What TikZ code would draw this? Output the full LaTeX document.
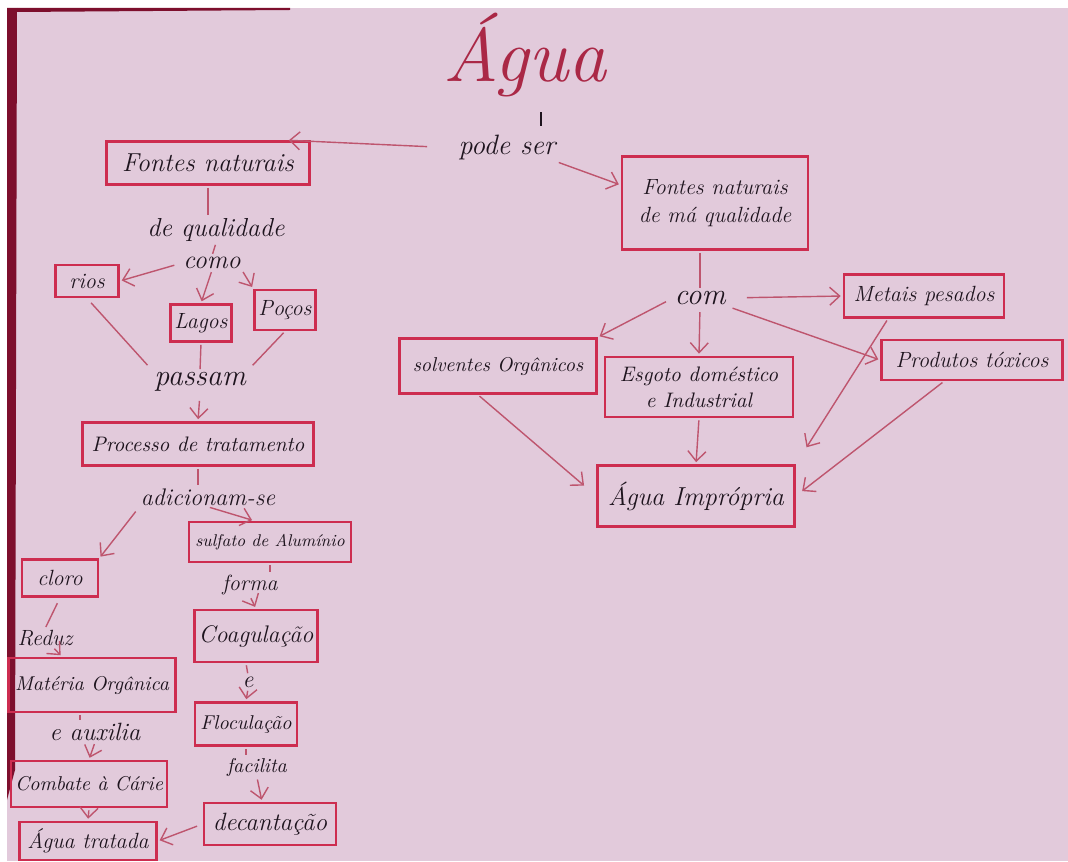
\documentclass[tikz,border=0pt]{standalone}
\usepackage{tikz}
\usetikzlibrary{positioning, arrows.meta}

\definecolor{paper}{RGB}{226,202,219}
\definecolor{boxred}{RGB}{205,45,80}
\definecolor{titlered}{RGB}{170,40,70}
\definecolor{linkred}{RGB}{190,85,110}
\definecolor{edgered}{RGB}{125,15,45}
\definecolor{ink}{RGB}{30,20,30}

\tikzset{
  concept/.style={draw=boxred, line width=1.3pt, rectangle, inner sep=2pt, align=center,
    text=ink, font=\fontsize{11}{14}\selectfont\itshape},
  linkword/.style={text=ink, inner sep=0.5pt, font=\fontsize{12}{14}\selectfont\itshape},
  arr/.style={draw=linkred, line width=0.7pt, -{Straight Barb[length=5pt,width=9pt]},
    shorten <=1pt, shorten >=1pt},
  plain/.style={draw=linkred, line width=0.7pt, shorten <=1pt, shorten >=1pt}
}

\begin{document}
\begin{tikzpicture}[x=0.5pt, y=-0.5pt]
  % paper
  \useasboundingbox (0,0) rectangle (1068,861);
  \fill[white] (0,0) rectangle (1068,861);
  \fill[paper] (7,8) rectangle (1068,861);
  \fill[edgered] (7,8) -- (17,8) -- (15,770) -- (7,800) -- cycle;
  \fill[edgered] (17,8) -- (290,8) -- (290,10) -- (17,12) -- cycle;

  % title
  \node[text=titlered, font=\fontsize{38}{40}\selectfont\itshape] (agua) at (525,55) {Água};
  \node[linkword, font=\fontsize{14}{16}\selectfont\itshape] (pode) at (507,148) {pode ser};

  % left branch
  \node[concept, minimum width=101.5pt, minimum height=21.5pt, font=\fontsize{13}{15}\selectfont\itshape] (fnat) at (208,163) {Fontes naturais};
  \node[linkword, font=\fontsize{13}{15}\selectfont\itshape] (dequal) at (216,230) {de qualidade};
  \node[linkword, font=\fontsize{13}{15}\selectfont\itshape] (como) at (212,263) {como};
  \node[concept, minimum width=31.5pt, minimum height=16pt] (rios) at (87,281) {rios};
  \node[concept, minimum width=29pt, minimum height=18.5pt] (lagos) at (201,323) {Lagos};
  \node[concept, minimum width=27.5pt, minimum height=20pt] (pocos) at (285,310) {Poços};
  \node[linkword, font=\fontsize{15}{17}\selectfont\itshape] (passam) at (200,382) {passam};
  \node[concept, minimum width=115.5pt, minimum height=21.5pt, font=\fontsize{10.5}{13}\selectfont\itshape] (proc) at (198,444) {Processo de tratamento};
  \node[linkword] (adic) at (208,497) {adicionam-se};
  \node[concept, minimum width=81pt, minimum height=20pt, font=\fontsize{8.5}{10}\selectfont\itshape] (sulf) at (270,542) {sulfato de Alumínio};
  \node[concept, minimum width=38pt, minimum height=18.5pt] (cloro) at (60,578) {cloro};
  \node[linkword, font=\fontsize{11}{13}\selectfont\itshape] (reduz) at (45,638) {Reduz};
  \node[concept, minimum width=83.5pt, minimum height=27pt, font=\fontsize{10}{12}\selectfont\itshape] (mat) at (92,685) {Matéria Orgânica};
  \node[linkword, font=\fontsize{12.5}{14}\selectfont\itshape] (eaux) at (95,732) {e auxilia};
  \node[concept, minimum width=76pt, minimum height=23pt, font=\fontsize{10}{12}\selectfont\itshape] (comb) at (89,784) {Combate à Cárie};
  \node[concept, minimum width=68.5pt, minimum height=19pt] (aguat) at (88,841) {Água tratada};
  \node[linkword, font=\fontsize{11}{13}\selectfont\itshape] (forma) at (250,585) {forma};
  \node[concept, minimum width=60pt, minimum height=26pt, font=\fontsize{12}{14}\selectfont\itshape] (coag) at (256,636) {Coagulação};
  \node[linkword] (econj) at (248,682) {e};
  \node[concept, minimum width=51pt, minimum height=21.5pt, font=\fontsize{10}{12}\selectfont\itshape] (floc) at (246,724) {Floculação};
  \node[linkword, font=\fontsize{10}{12}\selectfont\itshape] (facil) at (257,767) {facilita};
  \node[concept, minimum width=66pt, minimum height=21pt, font=\fontsize{12.5}{14}\selectfont\itshape] (decant) at (270,824) {decantação};

  % right branch
  \node[concept, minimum width=93pt, minimum height=46.5pt] (fmq) at (715,203) {Fontes naturais\\de má qualidade};
  \node[linkword, font=\fontsize{15}{17}\selectfont\itshape] (com) at (700,298) {com};
  \node[concept, minimum width=80pt, minimum height=21.5pt] (metais) at (924,296) {Metais pesados};
  \node[concept, minimum width=98.5pt, minimum height=27.5pt, font=\fontsize{10}{12}\selectfont\itshape] (solv) at (498,366) {solventes Orgânicos};
  \node[concept, minimum width=94pt, minimum height=30pt, font=\fontsize{10.5}{13}\selectfont\itshape] (esgoto) at (699,387) {Esgoto doméstico\\e Industrial};
  \node[concept, minimum width=90.5pt, minimum height=20pt] (prod) at (972,360) {Produtos tóxicos};
  \node[concept, minimum width=98.5pt, minimum height=30.5pt, font=\fontsize{13}{15}\selectfont\itshape] (aguai) at (696,496) {Água Imprópria};

  % connectors
  \draw[plain, draw=ink, shorten <=4pt, shorten >=4pt] ([xshift=8pt]agua.south) -- ([xshift=17pt]pode.north);
  \draw[arr, shorten <=15pt] (pode.west) -- ([xshift=-12pt]fnat.north east);
  \draw[arr] (pode.south east) -- ([yshift=9pt]fmq.west);
  \draw[plain] (fnat.south) -- (fnat.south |- dequal.north);
  \draw[plain] (dequal.south) -- (como.north);
  \draw[arr, shorten <=4pt] (como.west) -- (rios.east);
  \draw[arr] (como.south) -- (lagos.north);
  \draw[arr] (como.south east) -- (pocos.north west);
  \draw[plain, shorten <=3pt, shorten >=4pt] (rios.south) -- (passam.north west);
  \draw[plain] (lagos.south) -- (passam.north);
  \draw[plain, shorten >=4pt] (pocos.south) -- (passam.north east);
  \draw[arr, shorten <=4pt] (passam.south) -- (proc.north);
  \draw[plain] (proc.south) -- (proc.south |- adic.north);
  \draw[arr, shorten <=3pt] (adic.south west) -- (cloro.north east);
  \draw[arr] (adic.south) -- ([xshift=-8pt]sulf.north);
  \draw[plain, shorten <=3pt] (cloro.south) -- (reduz.north);
  \draw[arr] ([xshift=4pt]reduz.south) -- ([xshift=-15pt]mat.north);
  \draw[plain] ([xshift=-6pt]mat.south) -- ([xshift=-6pt]mat.south |- eaux.north);
  \draw[arr] (eaux.south) -- (comb.north);
  \draw[arr] (comb.south) -- (aguat.north);
  \draw[plain] (sulf.south) -- (sulf.south |- forma.north);
  \draw[arr] (forma.south) -- (coag.north);
  \draw[plain] ([xshift=-5pt]coag.south) -- (econj.north);
  \draw[arr] (econj.south) -- (floc.north);
  \draw[plain] (floc.south) -- (floc.south |- facil.north);
  \draw[arr] (facil.south) -- ([xshift=-4pt]decant.north);
  \draw[arr, shorten <=3pt] (decant.west) -- (aguat.east);
  \draw[plain] (com.north |- fmq.south) -- (com.north);
  \draw[arr, shorten <=10pt] (com.east) -- (metais.west);
  \draw[arr, shorten <=4pt] (com.west) -- (solv.north east);
  \draw[arr, shorten <=3pt] (com.south) -- (esgoto.north);
  \draw[arr, shorten <=3pt] (com.south east) -- (prod.west);
  \draw[arr, shorten >=8pt] ([xshift=-10pt]solv.south) -- (aguai.west);
  \draw[arr] (esgoto.south) -- (aguai.north);
  \draw[arr, shorten >=10pt] ([xshift=-18pt]metais.south) -- (aguai.north east);
  \draw[arr, shorten >=4pt] ([xshift=-14pt]prod.south) -- (aguai.east);
\end{tikzpicture}
\end{document}
